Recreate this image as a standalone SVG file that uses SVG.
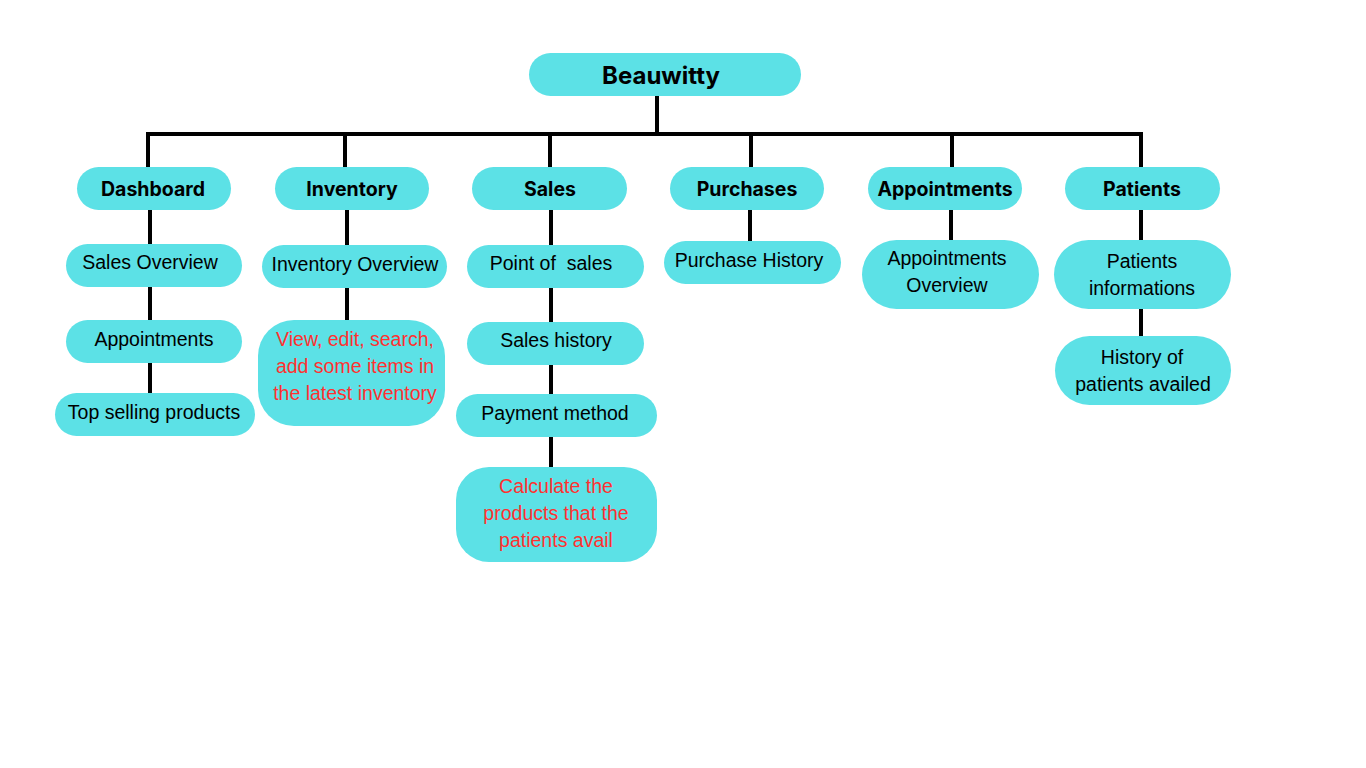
<svg xmlns="http://www.w3.org/2000/svg" width="1366" height="768" viewBox="0 0 1366 768">
<style>
.n{fill:#5ce1e6}
.h{font-family:Inter,"Liberation Sans",sans-serif;font-weight:700;font-size:19.5px;fill:#000;text-anchor:middle}
.t{font-family:"Liberation Sans",Arial,sans-serif;font-size:19.5px;fill:#000;text-anchor:middle}
.r{fill:#ff3131}
.c{stroke:#000;stroke-width:4;fill:none}
</style>
<rect width="1366" height="768" fill="#fff"/>
<g id="connectors" class="c">
<path d="M657 96V134M148 167V134H1141V167M345 134V167M550 134V167M751 134V167M952 134V167"/>
<path d="M150 210V244M150 287V320M150 363V393"/>
<path d="M347 210V245M347 288V320"/>
<path d="M551 210V245M551 288V322M551 365V394M551 437V467"/>
<path d="M750 210V241"/>
<path d="M951 210V240"/>
<path d="M1141 210V240M1141 309V336"/>
</g>
<g id="beauwitty"><rect class="n" x="529" y="53" width="272" height="43" rx="21.5"/><text class="h" x="661" y="84" style="font-size:24px">Beauwitty</text></g>
<g id="dashboard"><rect class="n" x="77" y="167" width="154" height="43" rx="21.5"/><text class="h" x="153" y="196">Dashboard</text></g>
<g id="inventory"><rect class="n" x="275" y="167" width="154" height="43" rx="21.5"/><text class="h" x="352" y="196">Inventory</text></g>
<g id="sales"><rect class="n" x="472" y="167" width="155" height="43" rx="21.5"/><text class="h" x="550" y="196">Sales</text></g>
<g id="purchases"><rect class="n" x="670" y="167" width="154" height="43" rx="21.5"/><text class="h" x="747" y="196">Purchases</text></g>
<g id="appointments"><rect class="n" x="868" y="167" width="154" height="43" rx="21.5"/><text class="h" x="945" y="196">Appointments</text></g>
<g id="patients"><rect class="n" x="1065" y="167" width="155" height="43" rx="21.5"/><text class="h" x="1142" y="196">Patients</text></g>

<g id="sales-overview"><rect class="n" x="66" y="244" width="176" height="43" rx="21.5"/><text class="t" x="150" y="269">Sales Overview</text></g>
<g id="dash-appointments"><rect class="n" x="66" y="320" width="176" height="43" rx="21.5"/><text class="t" x="154" y="346">Appointments</text></g>
<g id="top-selling"><rect class="n" x="55" y="393" width="200" height="43" rx="21.5"/><text class="t" x="154" y="419">Top selling products</text></g>

<g id="inventory-overview"><rect class="n" x="262" y="245" width="185" height="43" rx="21.5"/><text class="t" x="355" y="271">Inventory Overview</text></g>
<g id="inventory-edit"><rect class="n" x="258" y="320" width="187" height="106" rx="36"/><text class="t r" x="355" y="346">View, edit, search,</text><text class="t r" x="355" y="373">add some items in</text><text class="t r" x="355" y="400">the latest inventory</text></g>

<g id="point-of-sales"><rect class="n" x="467" y="245" width="177" height="43" rx="21.5"/><text class="t" x="551" y="270" style="white-space:pre">Point of  sales</text></g>
<g id="sales-history"><rect class="n" x="467" y="322" width="177" height="43" rx="21.5"/><text class="t" x="556" y="347">Sales history</text></g>
<g id="payment-method"><rect class="n" x="456" y="394" width="201" height="43" rx="21.5"/><text class="t" x="555" y="420">Payment method</text></g>
<g id="calculate"><rect class="n" x="456" y="467" width="201" height="95" rx="33"/><text class="t r" x="556" y="493">Calculate the</text><text class="t r" x="556" y="520">products that the</text><text class="t r" x="556" y="547">patients avail</text></g>

<g id="purchase-history"><rect class="n" x="664" y="241" width="177" height="43" rx="21.5"/><text class="t" x="749" y="267">Purchase History</text></g>

<g id="appointments-overview"><rect class="n" x="862" y="240" width="177" height="69" rx="34.5"/><text class="t" x="947" y="265">Appointments</text><text class="t" x="947" y="292">Overview</text></g>

<g id="patients-informations"><rect class="n" x="1054" y="240" width="177" height="69" rx="34.5"/><text class="t" x="1142" y="268">Patients</text><text class="t" x="1142" y="295">informations</text></g>
<g id="patients-history"><rect class="n" x="1055" y="336" width="176" height="69" rx="34.5"/><text class="t" x="1142" y="364">History of</text><text class="t" x="1143" y="391">patients availed</text></g>
</svg>
